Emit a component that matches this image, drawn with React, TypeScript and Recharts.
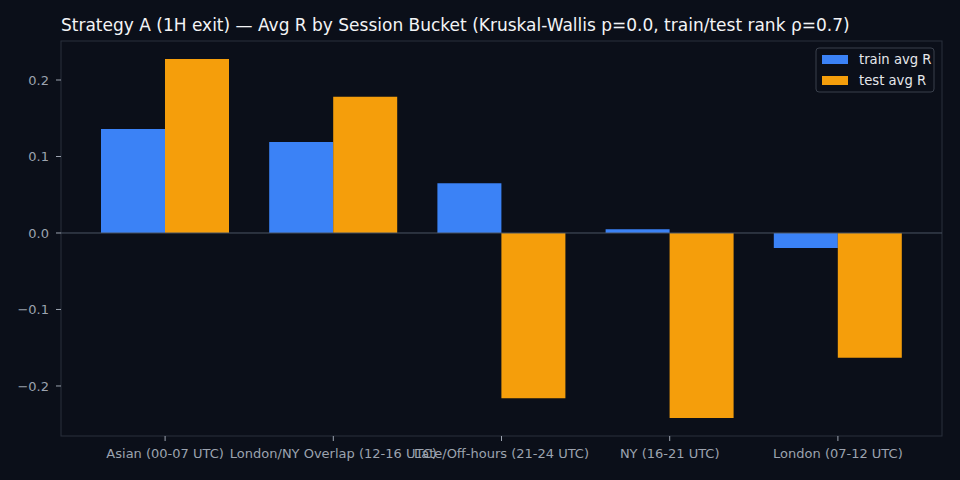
import React from 'react';
import { BarChart, Bar, XAxis, YAxis, ReferenceLine } from 'recharts';

const categories = [
  'Asian (00-07 UTC)',
  'London/NY Overlap (12-16 UTC)',
  'Late/Off-hours (21-24 UTC)',
  'NY (16-21 UTC)',
  'London (07-12 UTC)',
];
const trainAvgR = [0.136, 0.119, 0.065, 0.005, -0.0195];
const testAvgR = [0.2275, 0.178, -0.216, -0.242, -0.163];
const yTicks = [-0.2, -0.1, 0.0, 0.1, 0.2];

const data = categories.map((session, i) => ({
  session,
  train: trainAvgR[i],
  test: testAvgR[i],
}));

const BG = '#0b0f19';
const FRAME = '#2a303c';
const TICK = '#9ca3af';
const FONT = '"DejaVu Sans", sans-serif';

if (typeof document !== 'undefined') {
  document.body.style.margin = '0';
  document.body.style.background = BG;
}

const fmt = (v: number) => (v < 0 ? '\u2212' : '') + Math.abs(v).toFixed(1);

const legendItems = [
  { label: 'train avg R', color: '#3b82f6' },
  { label: 'test avg R', color: '#f59e0b' },
];

export default function App() {
  return (
    <div style={{ width: 960, height: 480, background: BG }}>
      <BarChart
        width={960}
        height={480}
        data={data}
        margin={{ top: 41, right: 18, bottom: 0, left: 0 }}
        barGap={0}
        barSize={64}
      >
        <rect x={61} y={41} width={881} height={395} fill="none" stroke={FRAME} />
        <text x={61} y={31} fill="#f3f4f6" fontSize={17} fontFamily={FONT}>
          Strategy A (1H exit) — Avg R by Session Bucket (Kruskal-Wallis p=0.0, train/test rank ρ=0.7)
        </text>
        <XAxis
          dataKey="session"
          height={44}
          interval={0}
          padding={{ left: 20, right: 20 }}
          axisLine={false}
          tickLine={{ stroke: TICK }}
          tickSize={5}
          tickMargin={8}
          tick={{ fill: TICK, fontSize: 13, fontFamily: FONT }}
        />
        <YAxis
          width={61}
          domain={[-0.2654, 0.251]}
          ticks={yTicks}
          allowDataOverflow
          axisLine={false}
          tickLine={{ stroke: TICK }}
          tickSize={5}
          tickMargin={7}
          tickFormatter={fmt}
          tick={{ fill: TICK, fontSize: 13, fontFamily: FONT }}
        />
        <ReferenceLine y={0} stroke="#4b5563" strokeWidth={1} />
        <Bar dataKey="train" name="train avg R" fill="#3b82f6" isAnimationActive={false} />
        <Bar dataKey="test" name="test avg R" fill="#f59e0b" isAnimationActive={false} />
        <g>
          <rect x={816} y={48} width={118} height={44} rx={3} fill={BG} stroke="#3a404c" />
          {legendItems.map((item, i) => (
            <g key={item.label}>
              <rect x={822} y={55 + i * 21} width={26} height={9} fill={item.color} />
              <text x={859} y={64 + i * 21} fill="#e5e7eb" fontSize={13.2} fontFamily={FONT}>
                {item.label}
              </text>
            </g>
          ))}
        </g>
      </BarChart>
    </div>
  );
}
